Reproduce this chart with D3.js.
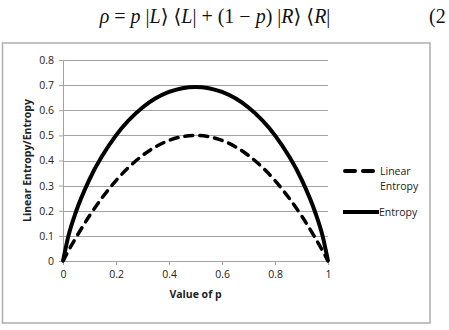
<!DOCTYPE html>
<html>
<head>
<meta charset="utf-8">
<script src="https://cdn.jsdelivr.net/npm/d3@7"></script>
<style>
  body { margin: 0; background: #fff; }
  svg { display: block; }
  .tick text { font-family: "Open Sans", "Liberation Sans", sans-serif; font-size: 10.5px; fill: #222; }
  .eq { font-family: "Liberation Serif", "DejaVu Serif", serif; font-size: 20px; fill: #111; }
</style>
</head>
<body>
<div id="chart"></div>
<script>
var width = 449,
  height = 330;

// values
var pValues = [0, 0.02, 0.05, 0.1, 0.2, 0.3, 0.4, 0.5, 0.6, 0.7, 0.8, 0.9, 0.95, 0.98, 1];
var linearEntropy = [0, 0.04, 0.095, 0.18, 0.32, 0.42, 0.48, 0.5, 0.48, 0.42, 0.32, 0.18, 0.095, 0.04, 0];
var entropy = [0, 0.098, 0.199, 0.325, 0.5, 0.611, 0.673, 0.693, 0.673, 0.611, 0.5, 0.325, 0.199, 0.098, 0];
var xTicks = [0, 0.2, 0.4, 0.6, 0.8, 1];
var yTicks = [0, 0.1, 0.2, 0.3, 0.4, 0.5, 0.6, 0.7, 0.8];
var seriesNames = ["Linear Entropy", "Entropy"];

var svg = d3.select("#chart").append("svg")
  .attr("width", width)
  .attr("height", height);

// equation above the chart
var eq = svg.append("text")
  .attr("class", "eq")
  .attr("x", 215)
  .attr("y", 23)
  .attr("text-anchor", "middle");
eq.append("tspan").attr("font-style", "italic").text("ρ");
eq.append("tspan").text(" = ");
eq.append("tspan").attr("font-style", "italic").text("p");
eq.append("tspan").text(" |");
eq.append("tspan").attr("font-style", "italic").text("L");
eq.append("tspan").text("⟩ ⟨");
eq.append("tspan").attr("font-style", "italic").text("L");
eq.append("tspan").text("| + (1 − ");
eq.append("tspan").attr("font-style", "italic").text("p");
eq.append("tspan").text(") |");
eq.append("tspan").attr("font-style", "italic").text("R");
eq.append("tspan").text("⟩ ⟨");
eq.append("tspan").attr("font-style", "italic").text("R");
eq.append("tspan").text("|");

svg.append("text")
  .attr("class", "eq")
  .attr("x", 429)
  .attr("y", 23)
  .text("(2");

// chart frame
svg.append("rect")
  .attr("x", 2.5)
  .attr("y", 43)
  .attr("width", 427.5)
  .attr("height", 280)
  .attr("fill", "#fff")
  .attr("stroke", "#adadad")
  .attr("stroke-width", 1.5);

var x = d3.scaleLinear().domain([0, 1]).range([63, 328]);
var y = d3.scaleLinear().domain([0, 0.8]).range([261, 60]);

// gridlines
svg.append("g")
  .selectAll("line")
  .data(yTicks)
  .enter().append("line")
  .attr("x1", x(0))
  .attr("x2", x(1))
  .attr("y1", function (d) { return Math.round(y(d)) + 0.5; })
  .attr("y2", function (d) { return Math.round(y(d)) + 0.5; })
  .attr("stroke", "#a3a3a3")
  .attr("stroke-width", 1);

var yAxis = svg.append("g")
  .attr("transform", "translate(" + x(0) + ",0)")
  .call(d3.axisLeft(y).tickValues(yTicks).tickSize(4).tickPadding(5)
    .tickFormat(function (d) { return d3.format("")(+d.toFixed(1)); }));
yAxis.select(".domain").attr("stroke", "#a3a3a3");
yAxis.selectAll(".tick line").attr("stroke", "#a3a3a3");

var xAxis = svg.append("g")
  .attr("transform", "translate(0," + y(0) + ")")
  .call(d3.axisBottom(x).tickValues(xTicks).tickSize(4).tickPadding(6)
    .tickFormat(function (d) { return d3.format("")(+d.toFixed(1)); }));
xAxis.select(".domain").attr("stroke", "#a3a3a3");
xAxis.selectAll(".tick line").attr("stroke", "#a3a3a3");

// axis titles
svg.append("text")
  .attr("transform", "translate(31," + y(0.4) + ") rotate(-90)")
  .attr("text-anchor", "middle")
  .attr("font-family", "Open Sans, Liberation Sans, sans-serif")
  .attr("font-size", "10.5px")
  .attr("font-weight", "bold")
  .attr("fill", "#222")
  .text("Linear Entropy/Entropy");

svg.append("text")
  .attr("x", x(0.5))
  .attr("y", 298)
  .attr("text-anchor", "middle")
  .attr("font-family", "Open Sans, Liberation Sans, sans-serif")
  .attr("font-size", "10.5px")
  .attr("font-weight", "bold")
  .attr("fill", "#222")
  .text("Value of p");

// curves
var line = d3.line()
  .x(function (d) { return x(d[0]); })
  .y(function (d) { return y(d[1]); })
  .curve(d3.curveMonotoneX);

svg.append("path")
  .datum(d3.zip(pValues, linearEntropy))
  .attr("d", line)
  .attr("fill", "none")
  .attr("stroke", "#000")
  .attr("stroke-width", 3.5)
  .attr("stroke-dasharray", "8,7")
  .attr("stroke-linecap", "round");

svg.append("path")
  .datum(d3.zip(pValues, entropy))
  .attr("d", line)
  .attr("fill", "none")
  .attr("stroke", "#000")
  .attr("stroke-width", 4);

// legend
var legend = svg.append("g").attr("transform", "translate(345,0)");

legend.append("line")
  .attr("x1", 0).attr("x2", 28)
  .attr("y1", 171).attr("y2", 171)
  .attr("stroke", "#000")
  .attr("stroke-width", 4)
  .attr("stroke-dasharray", "10,8")
  .attr("stroke-linecap", "round");

legend.append("text")
  .attr("x", 35)
  .attr("y", 175)
  .attr("font-family", "Open Sans, Liberation Sans, sans-serif")
  .attr("font-size", "10.5px")
  .attr("fill", "#222")
  .text(seriesNames[0].split(" ")[0]);
legend.append("text")
  .attr("x", 35)
  .attr("y", 190)
  .attr("font-family", "Open Sans, Liberation Sans, sans-serif")
  .attr("font-size", "10.5px")
  .attr("fill", "#222")
  .text(seriesNames[0].split(" ")[1]);

legend.append("line")
  .attr("x1", -2).attr("x2", 34)
  .attr("y1", 212).attr("y2", 212)
  .attr("stroke", "#000")
  .attr("stroke-width", 4);

legend.append("text")
  .attr("x", 34)
  .attr("y", 216)
  .attr("font-family", "Open Sans, Liberation Sans, sans-serif")
  .attr("font-size", "10.5px")
  .attr("fill", "#222")
  .text(seriesNames[1]);
</script>
</body>
</html>
